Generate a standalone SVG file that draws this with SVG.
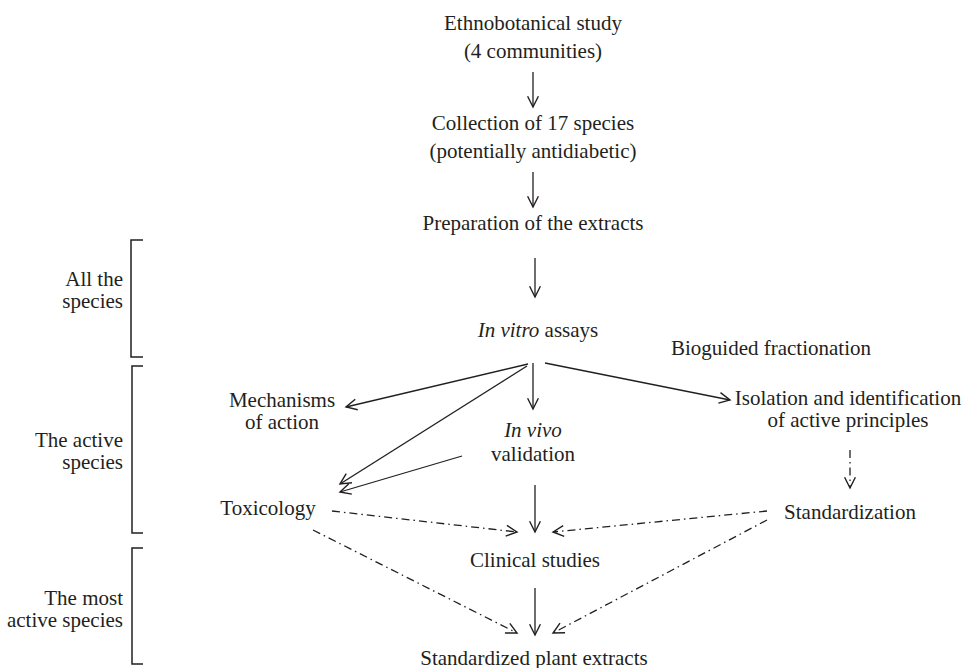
<svg xmlns="http://www.w3.org/2000/svg" width="964" height="668" viewBox="0 0 964 668">
<defs>
<marker id="ah" markerUnits="userSpaceOnUse" markerWidth="14" markerHeight="14" refX="10" refY="5" orient="auto" viewBox="-1 -1 13 12">
<path d="M0,0 L10,5 L0,10" fill="none" stroke="#231f20" stroke-width="1.3"/>
</marker>
</defs>
<style>
text{font-family:"Liberation Serif","Times New Roman",serif;font-size:21px;fill:#231f20}
.c{text-anchor:middle}
.r{text-anchor:end}
.i{font-style:italic}
.ln{stroke:#231f20;stroke-width:1.3;fill:none;marker-end:url(#ah)}
.dd{stroke-dasharray:8 4 1.5 4}
.br{stroke:#231f20;stroke-width:1.5;fill:none}
</style>
<rect width="964" height="668" fill="#fff"/>
<g id="ethno"><text class="c" x="533" y="30">Ethnobotanical study</text><text class="c" x="533" y="58">(4 communities)</text></g>
<g id="collection"><text class="c" x="533" y="130">Collection of 17 species</text><text class="c" x="533" y="158">(potentially antidiabetic)</text></g>
<g id="preparation"><text class="c" x="533" y="230">Preparation of the extracts</text></g>
<g id="invitro"><text class="c" x="538" y="337"><tspan class="i">In vitro</tspan> assays</text></g>
<g id="bioguided"><text class="c" x="771" y="355">Bioguided fractionation</text></g>
<g id="mechanisms"><text class="c" x="282" y="407">Mechanisms</text><text class="c" x="282" y="429">of action</text></g>
<g id="invivo"><text class="c i" x="533" y="437">In vivo</text><text class="c" x="533" y="461">validation</text></g>
<g id="isolation"><text class="c" x="848" y="405">Isolation and identification</text><text class="c" x="848" y="427">of active principles</text></g>
<g id="toxicology"><text class="c" x="268" y="515">Toxicology</text></g>
<g id="standardization"><text class="c" x="850" y="519">Standardization</text></g>
<g id="clinical"><text class="c" x="535" y="567">Clinical studies</text></g>
<g id="extracts"><text class="c" x="534" y="665">Standardized plant extracts</text></g>
<g id="bracket-all"><path class="br" d="M143,240 H131 V357 H143"/><text class="r" x="123" y="286">All the</text><text class="r" x="123" y="308">species</text></g>
<g id="bracket-active"><path class="br" d="M143,366 H132 V533 H143"/><text class="r" x="123" y="447">The active</text><text class="r" x="123" y="469">species</text></g>
<g id="bracket-most"><path class="br" d="M143,548 H132 V664 H143"/><text class="r" x="123" y="605">The most</text><text class="r" x="123" y="627">active species</text></g>
<g id="connectors">
<line class="ln" x1="533" y1="72" x2="533" y2="107"/>
<line class="ln" x1="533" y1="172" x2="533" y2="207"/>
<line class="ln" x1="535" y1="258" x2="535" y2="297"/>
<line class="ln" x1="528" y1="364" x2="346" y2="407"/>
<line class="ln" x1="533" y1="363" x2="533" y2="409"/>
<line class="ln" x1="545" y1="363" x2="730" y2="400"/>
<line class="ln" x1="527" y1="366" x2="340" y2="484"/>
<line class="ln" x1="462" y1="456" x2="340" y2="492"/>
<line class="ln" x1="535" y1="485" x2="535" y2="532"/>
<line class="ln" x1="535" y1="588" x2="535" y2="635"/>
<line class="ln dd" x1="332" y1="511" x2="517" y2="532"/>
<line class="ln dd" x1="313" y1="530" x2="517" y2="633"/>
<line class="ln dd" x1="767" y1="511" x2="553" y2="532"/>
<line class="ln dd" x1="767" y1="520" x2="553" y2="633"/>
<line class="ln dd" x1="850" y1="450" x2="850" y2="488"/>
</g>
</svg>
